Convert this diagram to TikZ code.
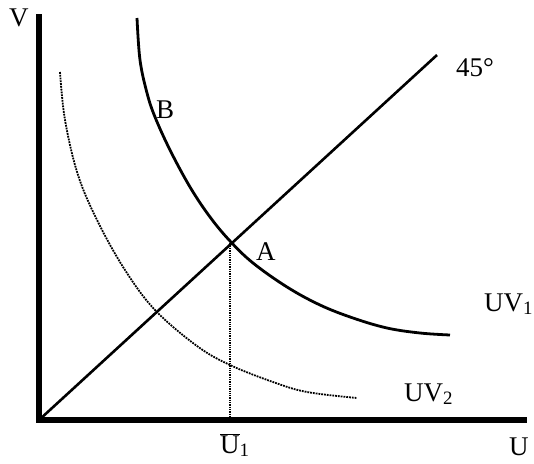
\documentclass[tikz,border=0pt]{standalone}
\usepackage{fontspec}
\setmainfont{Liberation Serif}
\usetikzlibrary{positioning}

\begin{document}
\begin{tikzpicture}[x=1pt,y=-1pt,
  axis/.style={line width=6pt,line join=miter},
  curve/.style={line width=2.8pt},
  lbl/.style={font=\fontsize{27}{30}\selectfont,inner sep=0pt,anchor=base west}]
  \useasboundingbox (0,0) rectangle (534,463);
  % axes and points
  \coordinate (O) at (39,420);
  \coordinate (Vtop) at (39,14);
  \coordinate (Uend) at (527,420);
  \coordinate (A) at (230,241);
  \coordinate (E) at (437,55);
  \coordinate (Ufoot) at (230,420);
  \draw[axis] (Vtop) -- (O) -- (Uend);
  \draw[curve,line width=2.6pt] (O) -- (E);
  \draw[line width=1.3pt,densely dotted] (A) -- (Ufoot);
  % indifference curves
  \draw[curve] plot[smooth,tension=0.6] coordinates
    {(137,18) (140,60) (147,93) (155,117) (170,150) (190,187) (210,217) (A)
     (253,263) (287,287) (320,305) (353,318) (387,328) (420,333) (450,335)};
  \draw[line width=1.8pt,densely dotted] plot[smooth,tension=0.6] coordinates
    {(60,72) (65,120) (78,175) (98,222) (125,270) (155,310) (197,346)
     (230,365) (273,382) (307,392) (357,398)};
  % labels
  \node[lbl] (lV) at (9,26) {V};
  \node[lbl] (lU) at (509,455) {U};
  \node[lbl] (lB) at (156,118) {B};
  \node[lbl] (lA) at (256,260) {A};
  \node[lbl] (l45) at (456,76) {45\textdegree};
  \node[lbl] (lUV1) at (484,311) {UV\textsubscript{1}};
  \node[lbl] (lUV2) at (404,401) {UV\textsubscript{2}};
  \node[lbl] (lU1) at (220,453) {$\overline{\hbox{U}}$\textsubscript{1}};
\end{tikzpicture}
\end{document}
